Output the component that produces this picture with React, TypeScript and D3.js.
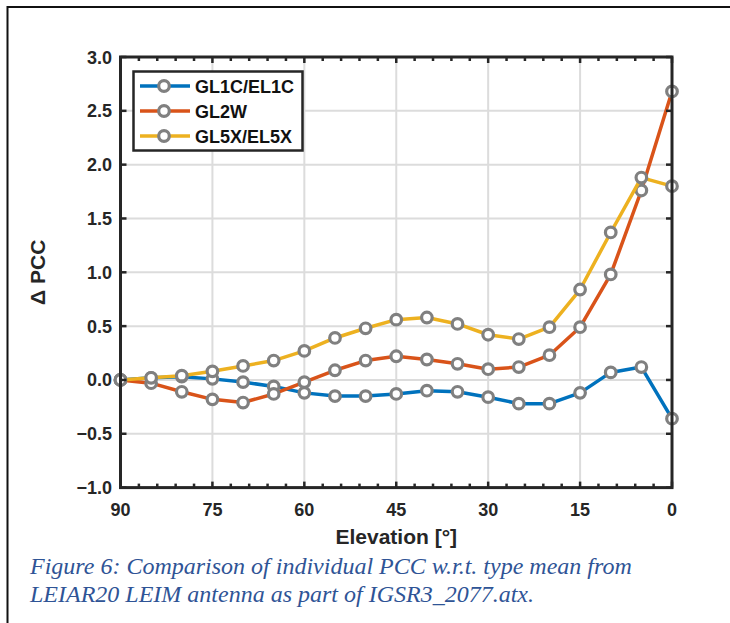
import React, { useEffect, useRef } from 'react';
import * as d3 from 'd3';

const elevations = [90, 85, 80, 75, 70, 65, 60, 55, 50, 45, 40, 35, 30, 25, 20, 15, 10, 5, 0];
const gl1c = [0, 0.02, 0.03, 0.01, -0.02, -0.06, -0.12, -0.15, -0.15, -0.13, -0.10, -0.11, -0.16, -0.22, -0.22, -0.12, 0.07, 0.12, -0.36];
const gl2w = [0, -0.03, -0.11, -0.18, -0.21, -0.13, -0.02, 0.09, 0.18, 0.22, 0.19, 0.15, 0.10, 0.12, 0.23, 0.49, 0.98, 1.76, 2.68];
const gl5x = [0, 0.02, 0.04, 0.08, 0.13, 0.18, 0.27, 0.39, 0.48, 0.56, 0.58, 0.52, 0.42, 0.38, 0.49, 0.84, 1.37, 1.88, 1.80];
const seriesNames = ['GL1C/EL1C', 'GL2W', 'GL5X/EL5X'];
const seriesColors = ['#0072BD', '#D95319', '#EDB120'];
const xTicks = [90, 75, 60, 45, 30, 15, 0];
const yTicks = [-1, -0.5, 0, 0.5, 1, 1.5, 2, 2.5, 3];

const FONT = '"Liberation Sans", Arial, sans-serif';

const App = () => {
  const svgRef = useRef<SVGSVGElement>(null);

  useEffect(() => {
    const width = 730;
    const height = 623;
    const m = { left: 120.5, right: 672, top: 57, bottom: 487.6 };

    const svg = d3.select(svgRef.current)
      .attr('width', width)
      .attr('height', height);
    svg.selectAll('*').remove();

    svg.append('rect').attr('width', width).attr('height', height).attr('fill', '#fff');
    // outer frame (only top and left visible)
    svg.append('path')
      .attr('d', `M7.5,${height} V7 H${width}`)
      .attr('fill', 'none')
      .attr('stroke', '#111')
      .attr('stroke-width', 2);

    const x = d3.scaleLinear().domain([90, 0]).range([m.left, m.right]);
    const y = d3.scaleLinear().domain([-1, 3]).range([m.bottom, m.top]);

    // grid
    const grid = svg.append('g');
    grid.selectAll('.gx').data(xTicks.slice(1, -1)).enter().append('line')
      .attr('x1', d => x(d)).attr('x2', d => x(d))
      .attr('y1', m.top).attr('y2', m.bottom)
      .attr('stroke', '#dcdcdc').attr('stroke-width', 2);
    grid.selectAll('.gy').data(yTicks.slice(1, -1)).enter().append('line')
      .attr('y1', d => y(d)).attr('y2', d => y(d))
      .attr('x1', m.left).attr('x2', m.right)
      .attr('stroke', '#dcdcdc').attr('stroke-width', 2);

    // series
    const line = d3.line<number>()
      .x((d, i) => x(elevations[i]))
      .y(d => y(d));
    const allSeries = [gl1c, gl2w, gl5x];
    allSeries.forEach((vals, k) => {
      svg.append('path')
        .datum(vals)
        .attr('d', line)
        .attr('fill', 'none')
        .attr('stroke', seriesColors[k])
        .attr('stroke-width', 3.5)
        .attr('stroke-linejoin', 'round');
      svg.append('g').selectAll('circle').data(vals).enter().append('circle')
        .attr('cx', (d, i) => x(elevations[i]))
        .attr('cy', d => y(d))
        .attr('r', 5.3)
        .attr('fill', '#fff')
        .attr('stroke', '#808080')
        .attr('stroke-width', 3.2);
    });

    // axes box + ticks
    const ax = svg.append('g');
    const minor = d3.range(0, 91, 3);
    minor.forEach(v => {
      const len = v % 15 === 0 ? 6 : 4;
      ax.append('line').attr('x1', x(v)).attr('x2', x(v))
        .attr('y1', m.bottom).attr('y2', m.bottom - len)
        .attr('stroke', '#262626').attr('stroke-width', 2.5);
      ax.append('line').attr('x1', x(v)).attr('x2', x(v))
        .attr('y1', m.top).attr('y2', m.top + len)
        .attr('stroke', '#262626').attr('stroke-width', 2.5);
    });
    yTicks.forEach(v => {
      ax.append('line').attr('x1', m.left).attr('x2', m.left + 6)
        .attr('y1', y(v)).attr('y2', y(v))
        .attr('stroke', '#262626').attr('stroke-width', 2.5);
      ax.append('line').attr('x1', m.right).attr('x2', m.right - 6)
        .attr('y1', y(v)).attr('y2', y(v))
        .attr('stroke', '#262626').attr('stroke-width', 2.5);
    });
    ax.append('rect')
      .attr('x', m.left).attr('y', m.top)
      .attr('width', m.right - m.left).attr('height', m.bottom - m.top)
      .attr('fill', 'none').attr('stroke', '#262626').attr('stroke-width', 3);

    ax.selectAll('.xl').data(xTicks).enter().append('text')
      .attr('x', d => x(d)).attr('y', 516)
      .attr('text-anchor', 'middle')
      .attr('font-family', FONT).attr('font-weight', 'bold').attr('font-size', 18)
      .attr('fill', '#262626')
      .text(d => d);
    ax.selectAll('.yl').data(yTicks).enter().append('text')
      .attr('x', 112).attr('y', d => y(d) + 6.5)
      .attr('text-anchor', 'end')
      .attr('font-family', FONT).attr('font-weight', 'bold').attr('font-size', 18)
      .attr('fill', '#262626')
      .text(d => d3.format('.1f')(d));

    svg.append('text')
      .attr('x', (m.left + m.right) / 2).attr('y', 544)
      .attr('text-anchor', 'middle')
      .attr('font-family', FONT).attr('font-weight', 'bold').attr('font-size', 21)
      .attr('fill', '#262626')
      .text('Elevation [°]');
    svg.append('text')
      .attr('transform', `translate(45,${(m.top + m.bottom) / 2}) rotate(-90)`)
      .attr('text-anchor', 'middle')
      .attr('font-family', FONT).attr('font-weight', 'bold').attr('font-size', 21)
      .attr('fill', '#262626')
      .text('Δ PCC');

    // legend
    const lg = svg.append('g');
    lg.append('rect')
      .attr('x', 133.5).attr('y', 71.5).attr('width', 169).attr('height', 79)
      .attr('fill', '#fff').attr('stroke', '#262626').attr('stroke-width', 2.5);
    seriesNames.forEach((name, k) => {
      const ly = 86 + k * 25;
      lg.append('line').attr('x1', 140).attr('x2', 190).attr('y1', ly).attr('y2', ly)
        .attr('stroke', seriesColors[k]).attr('stroke-width', 3.5);
      lg.append('circle').attr('cx', 164).attr('cy', ly).attr('r', 5.3)
        .attr('fill', '#fff').attr('stroke', '#808080').attr('stroke-width', 3.2);
      lg.append('text').attr('x', 195).attr('y', ly + 6.5)
        .attr('font-family', FONT).attr('font-weight', 'bold').attr('font-size', 18)
        .attr('fill', '#111')
        .text(name);
    });

    // caption
    const cap = ['Figure 6: Comparison of individual PCC w.r.t. type mean from',
      'LEIAR20 LEIM antenna as part of IGSR3_2077.atx.'];
    cap.forEach((t, i) => {
      svg.append('text')
        .attr('x', 30).attr('y', 574 + i * 28)
        .attr('font-family', '"Liberation Serif", "Times New Roman", serif')
        .attr('font-style', 'italic').attr('font-size', 24)
        .attr('fill', '#2F5496')
        .text(t);
    });
  }, []);

  return <svg ref={svgRef} style={{ position: 'absolute', left: 0, top: 0 }}></svg>;
};

export default App;
